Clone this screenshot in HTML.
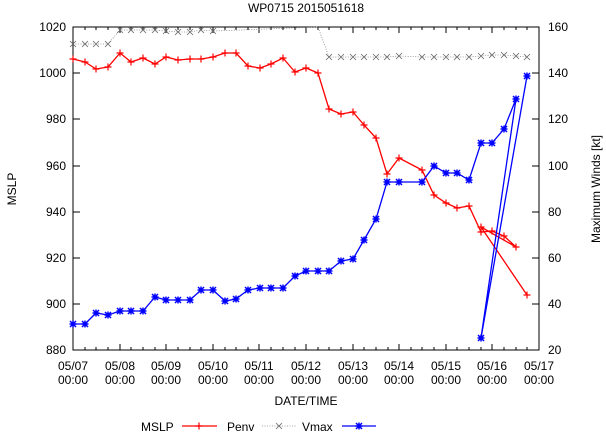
<!DOCTYPE html>
<html><head><style>body{margin:0;background:#fff}svg{display:block}text{font-family:"Liberation Sans",sans-serif;font-size:12px;fill:#000}</style></head>
<body>
<svg width="606" height="432" viewBox="0 0 606 432" xmlns="http://www.w3.org/2000/svg">
<defs>
<g id="pl"><path d="M-3.5 0H3.5M0 -3.5V3.5" stroke="#f00" stroke-width="1.2"/></g>
<g id="xx"><path d="M-3 -3L3 3M-3 3L3 -3" stroke="#666" stroke-width="0.8"/></g>
<g id="st"><path d="M-3.5 0H3.5M0 -3.5V3.5M-3 -3L3 3M-3 3L3 -3" stroke="#00f" stroke-width="1.5"/></g>
</defs>
<text x="306" y="12" text-anchor="middle">WP0715 2015051618</text>
<g id="ticks" stroke="#000" stroke-width="1">
<path d="M73 27V350M539 27V350"/>
<path d="M73 27H80M73 73H80M73 119H80M73 166H80M73 212H80M73 258H80M73 304H80M73 350H80"/>
<path d="M539 27H532M539 73H532M539 119H532M539 166H532M539 212H532M539 258H532M539 304H532M539 350H532"/>
<path d="M120 350v-6M166 350v-6M213 350v-6M259 350v-6M306 350v-6M353 350v-6M399 350v-6M446 350v-6M492 350v-6M120 27v6M166 27v6M213 27v6M259 27v6M306 27v6M353 27v6M399 27v6M446 27v6M492 27v6"/>
<path d="M85 350v-3M96 350v-3M108 350v-3M131 350v-3M143 350v-3M155 350v-3M178 350v-3M190 350v-3M201 350v-3M225 350v-3M236 350v-3M248 350v-3M271 350v-3M283 350v-3M295 350v-3M318 350v-3M329 350v-3M341 350v-3M364 350v-3M376 350v-3M388 350v-3M411 350v-3M422 350v-3M434 350v-3M457 350v-3M469 350v-3M481 350v-3M504 350v-3M516 350v-3M527 350v-3M85 27v3M96 27v3M108 27v3M131 27v3M143 27v3M155 27v3M178 27v3M190 27v3M201 27v3M225 27v3M236 27v3M248 27v3M271 27v3M283 27v3M295 27v3M318 27v3M329 27v3M341 27v3M364 27v3M376 27v3M388 27v3M411 27v3M422 27v3M434 27v3M457 27v3M469 27v3M481 27v3M504 27v3M516 27v3M527 27v3"/>
</g>
<rect x="73" y="27" width="466" height="323" fill="none" stroke="#000" stroke-width="1"/>
<g text-anchor="end">
<text x="66" y="31">1020</text><text x="66" y="77">1000</text><text x="66" y="123">980</text><text x="66" y="170">960</text><text x="66" y="216">940</text><text x="66" y="262">920</text><text x="66" y="308">900</text><text x="66" y="354">880</text>
</g>
<g text-anchor="start">
<text x="548" y="31">160</text><text x="548" y="77">140</text><text x="548" y="123">120</text><text x="548" y="170">100</text><text x="548" y="216">80</text><text x="548" y="262">60</text><text x="548" y="308">40</text><text x="548" y="354">20</text>
</g>
<g text-anchor="middle">
<text x="73" y="370">05/07</text><text x="73" y="384">00:00</text>
<text x="120" y="370">05/08</text><text x="120" y="384">00:00</text>
<text x="166" y="370">05/09</text><text x="166" y="384">00:00</text>
<text x="213" y="370">05/10</text><text x="213" y="384">00:00</text>
<text x="259" y="370">05/11</text><text x="259" y="384">00:00</text>
<text x="306" y="370">05/12</text><text x="306" y="384">00:00</text>
<text x="353" y="370">05/13</text><text x="353" y="384">00:00</text>
<text x="399" y="370">05/14</text><text x="399" y="384">00:00</text>
<text x="446" y="370">05/15</text><text x="446" y="384">00:00</text>
<text x="492" y="370">05/16</text><text x="492" y="384">00:00</text>
<text x="539" y="370">05/17</text><text x="539" y="384">00:00</text>
<text x="306" y="405">DATE/TIME</text>
</g>
<text transform="translate(16,189) rotate(-90)" text-anchor="middle">MSLP</text>
<text transform="translate(600,189) rotate(-90)" text-anchor="middle">Maximum Winds [kt]</text>
<polyline fill="none" stroke="#888" stroke-width="0.8" stroke-dasharray="1,1.5" points="73,44 85,44 96,44 108,44 120,30 131,30 143,30 155,30 166,31 178,32 190,32 201,30 213,31 318,27 329,57 341,57 353,57 364,57 376,57 387,57 399,56 422,57 434,57 446,57 457,57 469,57 481,56 492,55 504,55 516,56 527,57"/>
<g>
<use href="#xx" x="73" y="44"/><use href="#xx" x="85" y="44"/><use href="#xx" x="96" y="44"/><use href="#xx" x="108" y="44"/><use href="#xx" x="120" y="30"/><use href="#xx" x="131" y="30"/><use href="#xx" x="143" y="30"/><use href="#xx" x="155" y="30"/><use href="#xx" x="166" y="31"/><use href="#xx" x="178" y="32"/><use href="#xx" x="190" y="32"/><use href="#xx" x="201" y="30"/><use href="#xx" x="213" y="31"/>
<use href="#xx" x="329" y="57"/><use href="#xx" x="341" y="57"/><use href="#xx" x="353" y="57"/><use href="#xx" x="364" y="57"/><use href="#xx" x="376" y="57"/><use href="#xx" x="387" y="57"/><use href="#xx" x="399" y="56"/><use href="#xx" x="422" y="57"/><use href="#xx" x="434" y="57"/><use href="#xx" x="446" y="57"/><use href="#xx" x="457" y="57"/><use href="#xx" x="469" y="57"/><use href="#xx" x="481" y="56"/><use href="#xx" x="492" y="55"/><use href="#xx" x="504" y="55"/><use href="#xx" x="516" y="56"/><use href="#xx" x="527" y="57"/>
</g>
<polyline fill="none" stroke="#f00" stroke-width="1.3" points="73,59 85,62 96,69 108,67 120,53 131,62 143,58 155,64 166,57 178,60 190,59 201,59 213,57 225,53 236,53 248,66 260,68 271,64 283,58 295,72 306,68 318,73 329,109 341,114 353,112 364,125 376,138 387,174 399,158 422,170 434,195 446,203 457,208 469,206 481,232 492,231 504,236 516,247 481,227 527,295"/>
<g>
<use href="#pl" x="73" y="59"/><use href="#pl" x="85" y="62"/><use href="#pl" x="96" y="69"/><use href="#pl" x="108" y="67"/><use href="#pl" x="120" y="53"/><use href="#pl" x="131" y="62"/><use href="#pl" x="143" y="58"/><use href="#pl" x="155" y="64"/><use href="#pl" x="166" y="57"/><use href="#pl" x="178" y="60"/><use href="#pl" x="190" y="59"/><use href="#pl" x="201" y="59"/><use href="#pl" x="213" y="57"/><use href="#pl" x="225" y="53"/><use href="#pl" x="236" y="53"/><use href="#pl" x="248" y="66"/><use href="#pl" x="260" y="68"/><use href="#pl" x="271" y="64"/><use href="#pl" x="283" y="58"/><use href="#pl" x="295" y="72"/><use href="#pl" x="306" y="68"/><use href="#pl" x="318" y="73"/><use href="#pl" x="329" y="109"/><use href="#pl" x="341" y="114"/><use href="#pl" x="353" y="112"/><use href="#pl" x="364" y="125"/><use href="#pl" x="376" y="138"/><use href="#pl" x="387" y="174"/><use href="#pl" x="399" y="158"/><use href="#pl" x="422" y="170"/><use href="#pl" x="434" y="195"/><use href="#pl" x="446" y="203"/><use href="#pl" x="457" y="208"/><use href="#pl" x="469" y="206"/><use href="#pl" x="481" y="232"/><use href="#pl" x="492" y="231"/><use href="#pl" x="504" y="236"/><use href="#pl" x="516" y="247"/><use href="#pl" x="481" y="227"/><use href="#pl" x="527" y="295"/>
</g>
<polyline fill="none" stroke="#00f" stroke-width="1.3" points="73,324 85,324 96,313 108,315 120,311 131,311 143,311 155,297 166,300 178,300 190,300 201,290 213,290 225,301 236,299 248,290 260,288 271,288 283,288 295,276 306,271 318,271 329,271 341,261 353,259 364,240 376,219 387,182 399,182 422,182 434,166 446,173 457,173 469,180 481,143 492,143 504,129 516,99 481,338 527,76"/>
<g>
<use href="#st" x="73" y="324"/><use href="#st" x="85" y="324"/><use href="#st" x="96" y="313"/><use href="#st" x="108" y="315"/><use href="#st" x="120" y="311"/><use href="#st" x="131" y="311"/><use href="#st" x="143" y="311"/><use href="#st" x="155" y="297"/><use href="#st" x="166" y="300"/><use href="#st" x="178" y="300"/><use href="#st" x="190" y="300"/><use href="#st" x="201" y="290"/><use href="#st" x="213" y="290"/><use href="#st" x="225" y="301"/><use href="#st" x="236" y="299"/><use href="#st" x="248" y="290"/><use href="#st" x="260" y="288"/><use href="#st" x="271" y="288"/><use href="#st" x="283" y="288"/><use href="#st" x="295" y="276"/><use href="#st" x="306" y="271"/><use href="#st" x="318" y="271"/><use href="#st" x="329" y="271"/><use href="#st" x="341" y="261"/><use href="#st" x="353" y="259"/><use href="#st" x="364" y="240"/><use href="#st" x="376" y="219"/><use href="#st" x="387" y="182"/><use href="#st" x="399" y="182"/><use href="#st" x="422" y="182"/><use href="#st" x="434" y="166"/><use href="#st" x="446" y="173"/><use href="#st" x="457" y="173"/><use href="#st" x="469" y="180"/><use href="#st" x="481" y="143"/><use href="#st" x="492" y="143"/><use href="#st" x="504" y="129"/><use href="#st" x="516" y="99"/><use href="#st" x="481" y="338"/><use href="#st" x="527" y="76"/>
</g>
<text x="141" y="431">MSLP</text>
<path d="M182 426H217" stroke="#f00" stroke-width="1.3"/><use href="#pl" x="199" y="426"/>
<text x="227" y="431">Penv</text>
<path d="M262 426H296" stroke="#888" stroke-width="0.8" stroke-dasharray="1,1.5"/><use href="#xx" x="279" y="426"/>
<text x="302" y="431">Vmax</text>
<path d="M342 426H376" stroke="#00f" stroke-width="1.3"/><use href="#st" x="359" y="426"/>
</svg>
</body></html>
